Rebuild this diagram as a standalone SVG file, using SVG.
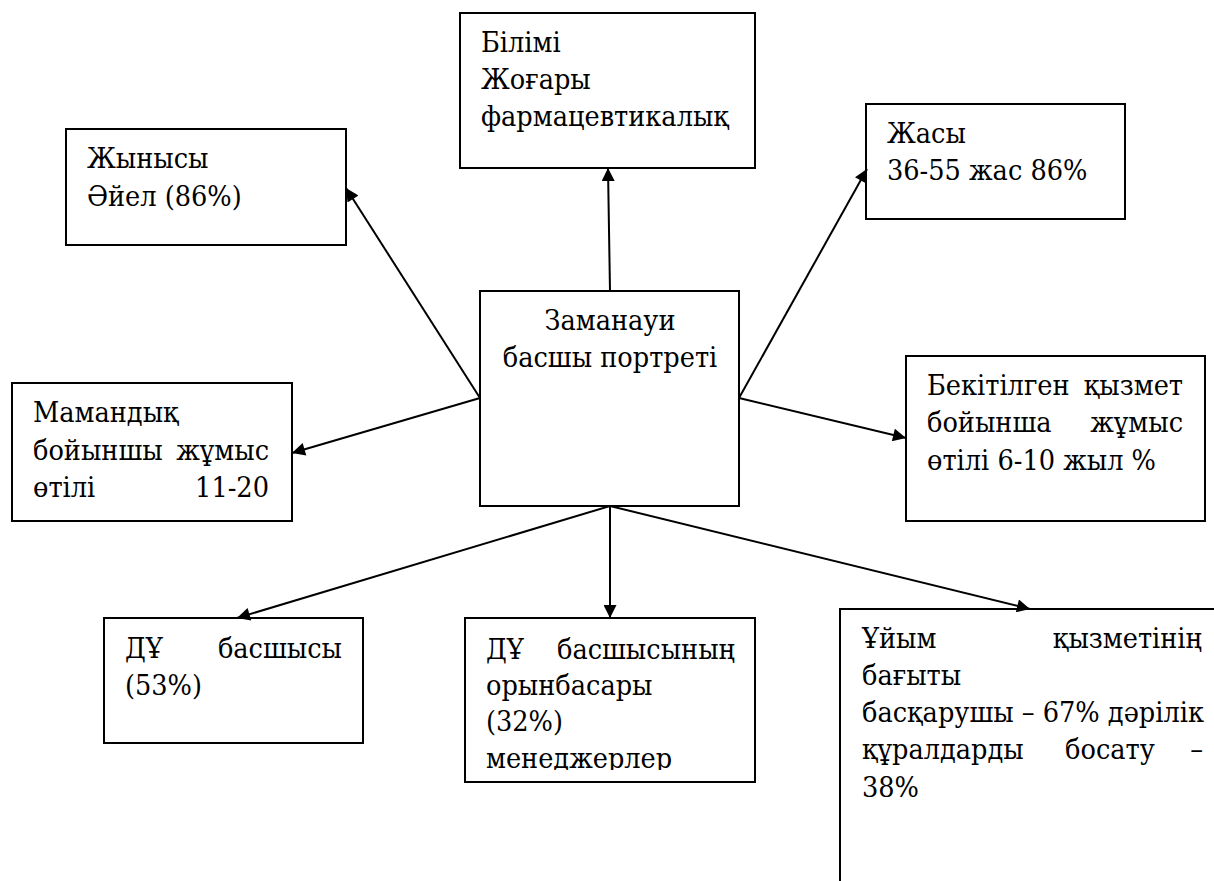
<svg xmlns="http://www.w3.org/2000/svg" width="1214" height="881" viewBox="0 0 1214 881">
<style>
.box{fill:#fff;stroke:#000;stroke-width:2}
text{font-family:"DejaVu Serif Condensed","DejaVu Serif","Liberation Serif",serif;font-stretch:condensed;font-size:28.5px;fill:#000}
.e{text-anchor:end}
.m{text-anchor:middle}
.c{stroke:#000;stroke-width:2;fill:none;marker-end:url(#ah)}
</style>
<defs>
<marker id="ah" viewBox="0 0 10 10" refX="10" refY="5" markerUnits="userSpaceOnUse" markerWidth="16" markerHeight="13" orient="auto">
<path d="M0,0 L10,5 L0,10 z" fill="#000"/>
</marker>
<clipPath id="clipDeputy"><rect x="465" y="618" width="290" height="152"/></clipPath>
</defs>
<rect width="1214" height="881" fill="#fff"/>

<g id="center">
<rect class="box" x="480" y="291" width="259" height="215"/>
<text class="m" x="610" y="330">Заманауи</text>
<text class="m" x="610" y="367">басшы портреті</text>
</g>

<g id="education">
<rect class="box" x="460" y="13" width="295" height="155"/>
<text x="481" y="52">Білімі</text>
<text x="481" y="89">Жоғары</text>
<text x="481" y="126">фармацевтикалық</text>
</g>

<g id="gender">
<rect class="box" x="66" y="129" width="280" height="116"/>
<text x="87" y="168">Жынысы</text>
<text x="87" y="206">Әйел (86%)</text>
</g>

<g id="age">
<rect class="box" x="866" y="104" width="259" height="115"/>
<text x="887" y="143">Жасы</text>
<text x="887" y="180">36-55 жас 86%</text>
</g>

<g id="experience">
<rect class="box" x="12" y="383" width="280" height="138"/>
<text x="33" y="422">Мамандық</text>
<text x="33" y="460">бойыншы</text>
<text class="e" x="269" y="460">жұмыс</text>
<text x="33" y="497">өтілі</text>
<text class="e" x="269" y="497">11-20</text>
</g>

<g id="position-experience">
<rect class="box" x="906" y="356" width="299" height="165"/>
<text x="927" y="395">Бекітілген</text>
<text class="e" x="1183" y="395">қызмет</text>
<text x="927" y="432">бойынша</text>
<text class="e" x="1183" y="432">жұмыс</text>
<text x="927" y="470">өтілі 6-10 жыл %</text>
</g>

<g id="head">
<rect class="box" x="104" y="618" width="259" height="125"/>
<text x="125" y="658">ДҰ</text>
<text class="e" x="342" y="658">басшысы</text>
<text x="125" y="695">(53%)</text>
</g>

<g id="deputy">
<rect class="box" x="465" y="618" width="290" height="164"/>
<g clip-path="url(#clipDeputy)">
<text x="486" y="659">ДҰ</text>
<text class="e" x="735" y="659">басшысының</text>
<text x="486" y="695">орынбасары</text>
<text x="486" y="731">(32%)</text>
<text x="486" y="768">менеджерлер</text>
</g>
</g>

<g id="direction">
<rect class="box" x="840" y="609" width="420" height="320"/>
<text x="862" y="648">Ұйым</text>
<text class="e" x="1202" y="648">қызметінің</text>
<text x="862" y="685">бағыты</text>
<text x="862" y="722">басқарушы – 67% дәрілік</text>
<text x="862" y="759">құралдарды</text>
<text class="m" x="1110" y="759">босату</text>
<text class="e" x="1203" y="759">–</text>
<text x="862" y="797">38%</text>
</g>

<g id="connectors">
<line class="c" x1="480" y1="398" x2="346" y2="188"/>
<line class="c" x1="480" y1="398" x2="292" y2="453"/>
<line class="c" x1="610" y1="291" x2="608" y2="168"/>
<line class="c" x1="739" y1="398" x2="867" y2="169"/>
<line class="c" x1="739" y1="398" x2="906" y2="438"/>
<line class="c" x1="610" y1="506" x2="237" y2="618"/>
<line class="c" x1="610" y1="506" x2="610" y2="618"/>
<line class="c" x1="610" y1="506" x2="1030" y2="609"/>
</g>
</svg>
